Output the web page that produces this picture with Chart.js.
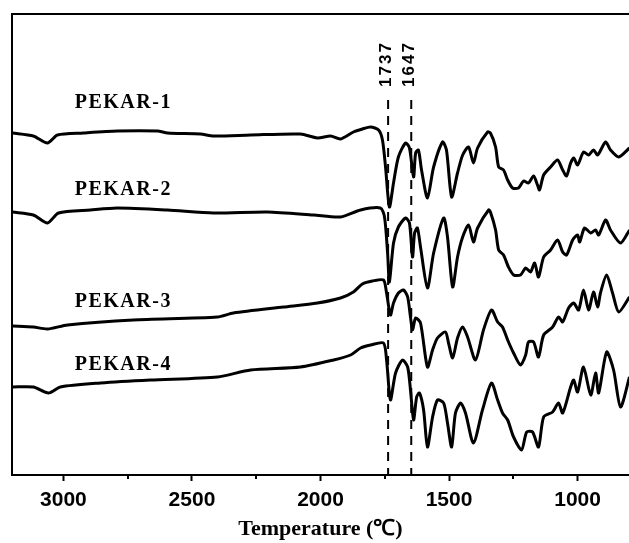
<!DOCTYPE html>
<html><head><meta charset="utf-8">
<script src="https://cdn.jsdelivr.net/npm/chart.js@4"></script>
<style>html,body{margin:0;padding:0;background:#fff}#wrap{width:629px;height:543px}</style>
</head><body><div id="wrap"><canvas id="c" width="629" height="543"></canvas></div>
<script>
// ---- data (wavenumber in cm^-1, transmittance in arbitrary offset units) ----
const seriesNames = ["PEKAR-1", "PEKAR-2", "PEKAR-3", "PEKAR-4"];

const wn1 = [3198,3117,3062,3023,2922,2790,2634,2595,2467,2416,2272,2078,2012,1961,1922,1872,1837,1805,1774,1759,1747,1732,1716,1697,1669,1654,1638,1630,1619,1607,1584,1560,1525,1510,1490,1467,1447,1424,1405,1389,1350,1339,1319,1307,1288,1272,1253,1230,1210,1191,1171,1156,1148,1132,1105,1078,1058,1043,1027,1015,1000,977,957,938,922,891,872,840,798];
const t1  = [342,339,332,340,342,344,344,342,341,339,340,341,337,339,336,343,346,348,345,335,308,268,292,318,332,327,298,322,325,305,277,308,333,325,278,302,320,328,312,327,343,342,328,308,305,295,287,287,294,292,299,290,285,300,308,315,305,299,312,317,310,323,320,325,320,333,325,318,327];

const wn2 = [3198,3117,3062,3019,2895,2790,2595,2416,2206,2027,1922,1844,1767,1751,1739,1732,1716,1697,1669,1654,1642,1634,1623,1611,1584,1560,1521,1506,1486,1467,1447,1424,1405,1389,1346,1339,1319,1307,1288,1269,1249,1222,1202,1183,1167,1152,1132,1105,1078,1058,1043,1019,1000,992,973,949,930,918,891,872,833,798];
const t2  = [263,260,252,262,265,267,265,262,263,260,258,265,267,258,222,193,232,248,257,252,218,242,247,228,187,222,257,238,188,218,238,250,233,247,265,263,245,225,220,208,200,200,207,203,212,198,218,225,235,223,220,235,240,233,247,242,245,240,255,245,232,245];

const wn3 = [3198,3117,3062,2984,2728,2401,2339,2144,2012,1922,1872,1837,1798,1755,1743,1728,1716,1697,1677,1661,1650,1642,1630,1611,1584,1564,1545,1514,1502,1486,1467,1447,1428,1397,1366,1335,1311,1292,1272,1249,1222,1202,1191,1171,1152,1132,1097,1074,1058,1035,1015,996,977,957,938,922,911,887,864,840,798];
const t3  = [149,148,146,150,155,158,162,168,172,177,183,191,194,195,182,160,172,182,185,178,158,145,157,152,108,125,137,143,132,117,137,148,138,115,145,165,153,148,135,122,110,120,133,133,118,140,148,158,153,167,172,165,185,165,183,168,182,200,182,163,178];

const wn4 = [3198,3117,3058,3012,2856,2661,2401,2272,2078,1949,1883,1844,1805,1755,1743,1728,1708,1681,1661,1650,1638,1626,1615,1599,1584,1564,1545,1521,1506,1490,1475,1455,1436,1405,1370,1335,1311,1292,1272,1249,1218,1198,1175,1152,1132,1097,1074,1058,1027,1015,1000,977,949,930,918,887,860,833,798];
const t4  = [88,88,82,88,92,95,98,105,108,115,120,127,130,132,115,75,102,115,108,85,55,78,82,65,28,58,75,72,52,28,62,72,62,32,65,92,75,62,55,38,25,43,43,28,58,63,72,62,88,95,83,108,80,102,82,123,105,68,98];

const xTicks = [3000, 2500, 2000, 1500, 1000];
const minorTicks = [2750, 2250, 1750, 1250];
const refLines = [1737, 1647];
const refLabels = ["1737", "1647"];
const axisTitle = "Temperature (\u2103)";

// label anchors (in data units)
const labelX = 2767;
const labelY = [372, 285, 173, 110];

const wnAll = [wn1, wn2, wn3, wn4];
const tAll = [t1, t2, t3, t4];

const datasets = seriesNames.map((name, k) => ({
  label: name,
  data: wnAll[k].map((x, i) => ({ x: x, y: tAll[k][i] })),
  borderColor: "#000",
  borderWidth: 3,
  pointRadius: 0,
  fill: false,
  tension: 0.25
}));

const decor = {
  id: "decor",
  afterDraw(chart) {
    const ctx = chart.ctx;
    const xs = chart.scales.x, ys = chart.scales.y;
    const a = chart.chartArea;
    ctx.save();
    ctx.strokeStyle = "#000";
    ctx.lineWidth = 2;
    ctx.beginPath();
    ctx.moveTo(a.left, a.bottom);
    ctx.lineTo(a.left, a.top);
    ctx.lineTo(a.right + 2, a.top);
    ctx.stroke();
    minorTicks.forEach(v => {
      const px = Math.round(xs.getPixelForValue(v));
      ctx.beginPath();
      ctx.moveTo(px, a.bottom);
      ctx.lineTo(px, a.bottom + 4);
      ctx.stroke();
    });
    ctx.setLineDash([9, 7]);
    refLines.forEach(v => {
      const px = xs.getPixelForValue(v);
      ctx.beginPath();
      ctx.moveTo(px, ys.getPixelForValue(375));
      ctx.lineTo(px, a.bottom);
      ctx.stroke();
    });
    ctx.setLineDash([]);
    ctx.fillStyle = "#000";
    ctx.font = "bold 17px 'Liberation Sans', Arial, sans-serif";
    try { ctx.letterSpacing = "2px"; } catch (e) {}
    ctx.textAlign = "center";
    ctx.textBaseline = "middle";
    refLines.forEach((v, i) => {
      const px = xs.getPixelForValue(v) - 2;
      ctx.save();
      ctx.translate(px, ys.getPixelForValue(411));
      ctx.rotate(-Math.PI / 2);
      ctx.fillText(refLabels[i], 0, 0);
      ctx.restore();
    });
    ctx.font = "bold 20px 'Liberation Serif', 'Times New Roman', serif";
    try { ctx.letterSpacing = "1.5px"; } catch (e) {}
    seriesNames.forEach((n, i) => {
      ctx.fillText(n, xs.getPixelForValue(labelX), ys.getPixelForValue(labelY[i]));
    });
    ctx.restore();
  }
};

new Chart(document.getElementById("c"), {
  type: "line",
  data: { datasets },
  plugins: [decor],
  options: {
    responsive: false,
    devicePixelRatio: 1,
    animation: false,
    layout: { padding: { left: 12, top: 14, right: 0, bottom: 0 } },
    plugins: { legend: { display: false }, tooltip: { enabled: false } },
    scales: {
      x: {
        type: "linear",
        reverse: true,
        min: 800,
        max: 3200,
        afterFit(s) { s.height = 68; },
        afterBuildTicks(s) { s.ticks = xTicks.map(v => ({ value: v })); },
        ticks: {
          includeBounds: false,
          color: "#000",
          padding: 7,
          font: { family: "'Liberation Sans', Arial, sans-serif", size: 21, weight: "bold" },
          callback: v => String(v)
        },
        grid: { drawOnChartArea: false, drawTicks: true, tickLength: 6, tickWidth: 2, tickColor: "#000" },
        border: { display: true, color: "#000", width: 2 },
        title: {
          display: true,
          text: axisTitle,
          color: "#000",
          font: { family: "'Liberation Serif', 'Times New Roman', serif", size: 22, weight: "bold" },
          padding: { top: 0, bottom: 0 }
        }
      },
      y: { type: "linear", display: false, min: 0, max: 461 }
    }
  }
});
</script></body></html>
